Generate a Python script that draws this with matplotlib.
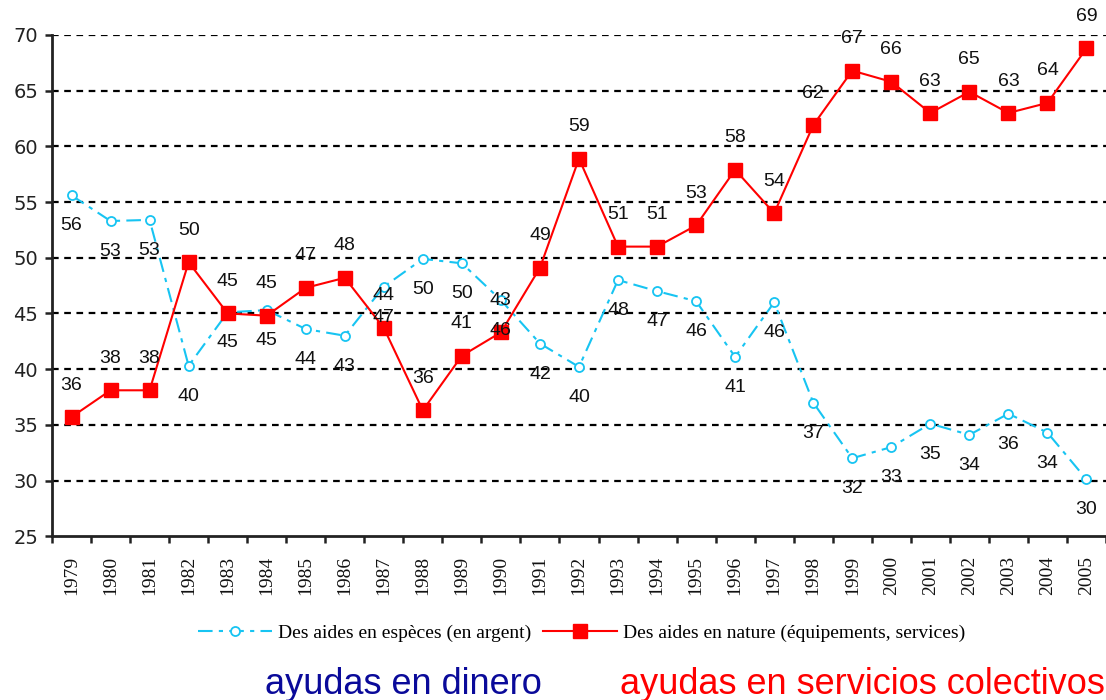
import matplotlib
matplotlib.use("Agg")
import matplotlib.pyplot as plt
from matplotlib.ticker import MultipleLocator

# datos
anios = ["1979", "1980", "1981", "1982", "1983", "1984", "1985", "1986", "1987",
         "1988", "1989", "1990", "1991", "1992", "1993", "1994", "1995", "1996",
         "1997", "1998", "1999", "2000", "2001", "2002", "2003", "2004", "2005"]
especes = [55.6, 53.3, 53.4, 40.3, 45.1, 45.3, 43.6, 43.0, 47.4,
           49.9, 49.5, 46.2, 42.3, 40.2, 48.0, 47.0, 46.1, 41.1,
           46.0, 37.0, 32.0, 33.0, 35.1, 34.1, 36.0, 34.3, 30.1]
nature = [35.7, 38.1, 38.1, 49.6, 45.0, 44.8, 47.3, 48.2, 43.7,
          36.3, 41.2, 43.3, 49.1, 58.9, 51.0, 51.0, 52.9, 57.9,
          54.0, 61.9, 66.8, 65.8, 63.0, 64.9, 63.0, 63.9, 68.8]
nombre_especes = "Des aides en espèces (en argent)"
nombre_nature = "Des aides en nature (équipements, services)"

azul = "#17c4f2"
rojo = "#ff0000"

fig = plt.figure(figsize=(11.06, 7.0), dpi=100)
ax = fig.add_axes([0.047, 0.234, 0.953, 0.716])

x = list(range(len(anios)))

# lineas
ax.plot(x, especes, color=azul, linestyle=(0, (7, 3, 2, 3)), linewidth=1.5,
        marker="o", markersize=6.5, markerfacecolor="white",
        markeredgecolor=azul, markeredgewidth=1.3, label=nombre_especes, zorder=3)
ax.plot(x, nature, color=rojo, linewidth=1.5, marker="s", markersize=9.5,
        markerfacecolor=rojo, markeredgecolor=rojo, label=nombre_nature, zorder=4)

# etiquetas de valores
for i in x:
    ax.annotate("%.0f" % especes[i], (i, especes[i]), xytext=(0, -22),
                textcoords="offset points", ha="center", va="center",
                fontsize=14, family="Liberation Sans", color="#111111", zorder=5)
    ax.annotate("%.0f" % nature[i], (i, nature[i]), xytext=(0, 23),
                textcoords="offset points", ha="center", va="center",
                fontsize=14, family="Liberation Sans", color="#111111", zorder=5)

ax.set_xlim(-0.5, len(anios) - 0.5)
ax.set_ylim(25, 70)
ax.yaxis.set_major_locator(MultipleLocator(5))

# rejilla punteada
for v in range(30, 71, 5):
    ax.axhline(v, color="black", linestyle=(0, (3, 2.5)), linewidth=1.6, zorder=1)

ax.spines["top"].set_visible(False)
ax.spines["right"].set_visible(False)
ax.spines["left"].set_linewidth(2)
ax.spines["bottom"].set_linewidth(2)
ax.spines["left"].set_color("#222222")
ax.spines["bottom"].set_color("#222222")

ax.set_xticks(x)
ax.set_xticklabels(anios, rotation=90, family="Liberation Serif", fontsize=14,
                   color="#111111")
ax.set_xticks([i - 0.5 for i in range(len(anios) + 1)], minor=True)
ax.tick_params(axis="x", which="major", length=0, pad=14)
ax.tick_params(axis="x", which="minor", length=5, width=1.8, direction="out",
               color="#222222")
ax.tick_params(axis="y", length=5, width=1.8, direction="out", pad=5,
               labelsize=14, color="#222222")
for t in ax.get_yticklabels():
    t.set_family("DejaVu Sans")
    t.set_color("#222222")

leg = fig.legend(loc="center", bbox_to_anchor=(0.526, 0.096), ncol=2,
                 frameon=False, prop={"family": "Liberation Serif", "size": 14},
                 handlelength=3.8, columnspacing=0.6, handletextpad=0.3)

fig.text(0.24, 0.009, "ayudas en dinero", color="#0a0a9a", fontsize=26,
         family="Liberation Sans", va="baseline")
fig.text(0.561, 0.009, "ayudas en servicios colectivos", color=rojo, fontsize=26,
         family="Liberation Sans", va="baseline")

fig.savefig("out.png", dpi=100)
